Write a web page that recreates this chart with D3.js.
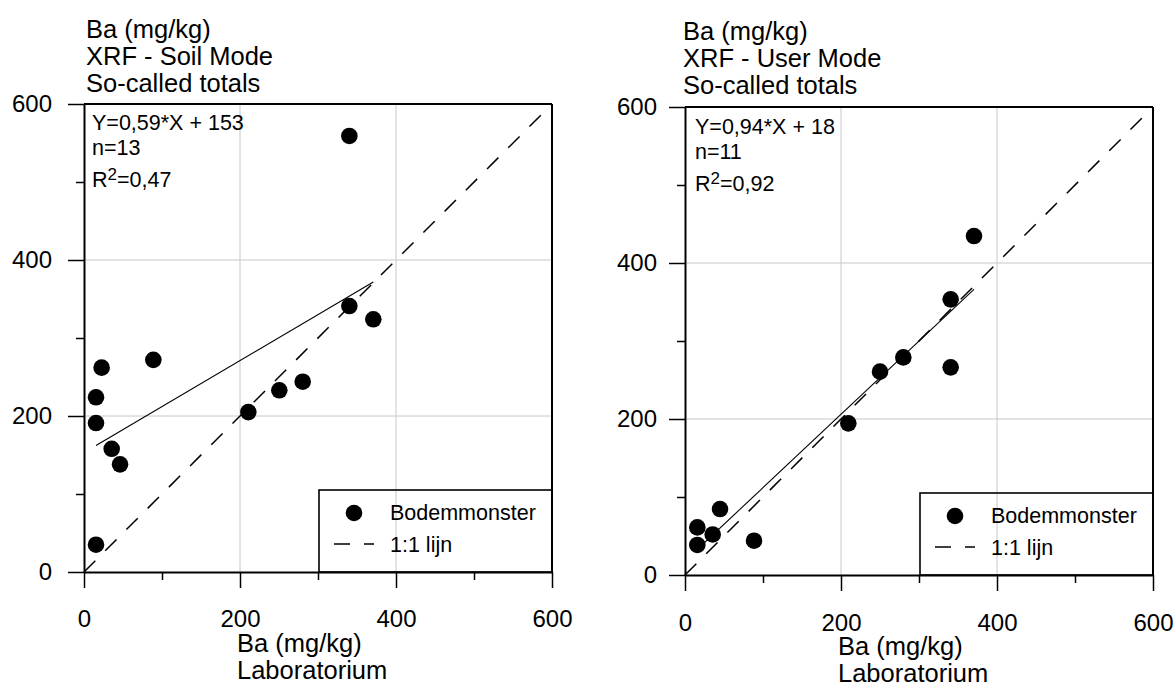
<!DOCTYPE html>
<html><head><meta charset="utf-8">
<script src="https://cdn.jsdelivr.net/npm/d3@7"></script>
<style>
body{margin:0;background:#fff}
svg text{font-family:"Liberation Sans",Arial,sans-serif;fill:#000}
</style>
</head><body>
<svg id="c" width="1175" height="688"></svg>
<script>
// ---- data ----
const soilLab = [22.6, 88.9, 15.4, 15.4, 35.5, 46.2, 15.4, 210.7, 250.4, 280.4, 340.2, 340.2, 370.9];
const soilXrf = [262, 272, 224, 191, 158, 138, 35, 205, 233, 244, 559, 341, 324];
const userLab = [15.8, 15.8, 35.5, 44.9, 88.5, 209.4, 250.0, 279.9, 370.5, 340.6, 340.6];
const userXrf = [61, 38.5, 52, 84.6, 44, 194.4, 260.7, 279, 434.6, 353.4, 266.2];
const majorTicks = [0, 200, 400, 600];
const minorTicks = [100, 300, 500];
const gridTicks = [200, 400];
const soilTitle = ["Ba (mg/kg)", "XRF - Soil Mode", "So-called totals"];
const userTitle = ["Ba (mg/kg)", "XRF - User Mode", "So-called totals"];
const xTitle = ["Ba (mg/kg)", "Laboratorium"];
const soilSlope = 0.59, soilIntercept = 153;
const userSlope = 0.94, userIntercept = 18;
const soilStats = ["Y=0,59*X + 153", "n=13", "0,47"];
const userStats = ["Y=0,94*X + 18", "n=11", "0,92"];
const legendLabels = ["Bodemmonster", "1:1 lijn"];

const svg = d3.select("#c");

function panel(cfg) {
  const W = 468;
  const x = d3.scaleLinear().domain([0, 600]).range([cfg.x0, cfg.x0 + W]);
  const y = d3.scaleLinear().domain([0, 600]).range([cfg.y0, cfg.y0 - W]);
  const g = svg.append("g");

  // grid
  g.selectAll(".gx").data(gridTicks).join("line")
    .attr("x1", d => x(d)).attr("x2", d => x(d))
    .attr("y1", y(0)).attr("y2", y(600))
    .attr("stroke", "#c8c8c8").attr("stroke-width", 1);
  g.selectAll(".gy").data(gridTicks).join("line")
    .attr("y1", d => y(d)).attr("y2", d => y(d))
    .attr("x1", x(0)).attr("x2", x(600))
    .attr("stroke", "#c8c8c8").attr("stroke-width", 1);

  // minor ticks
  const minL = g.append("g").attr("transform", `translate(${cfg.x0},0)`)
    .call(d3.axisLeft(y).tickValues(minorTicks).tickSize(8).tickFormat(""));
  const minB = g.append("g").attr("transform", `translate(0,${cfg.y0})`)
    .call(d3.axisBottom(x).tickValues(minorTicks).tickSize(8).tickFormat(""));
  [minL, minB].forEach(a => { a.select(".domain").remove(); a.selectAll("line").attr("stroke-width", 1.5); });

  // major axes
  const axL = g.append("g").attr("transform", `translate(${cfg.x0},0)`)
    .call(d3.axisLeft(y).tickValues(majorTicks).tickSize(16).tickSizeOuter(0).tickPadding(cfg.yPad));
  const axB = g.append("g").attr("transform", `translate(0,${cfg.y0})`)
    .call(d3.axisBottom(x).tickValues(majorTicks).tickSize(16).tickSizeOuter(0).tickPadding(cfg.xPad));
  [axL, axB].forEach(a => {
    a.select(".domain").attr("stroke-width", 2);
    a.selectAll("line").attr("stroke-width", 1.5);
    a.selectAll("text").style("font-size", "24px").style("font-family", '"Liberation Sans",Arial,sans-serif');
  });

  // frame top & right
  g.append("line").attr("x1", x(0)).attr("x2", x(600)).attr("y1", y(600)).attr("y2", y(600))
    .attr("stroke", "#000").attr("stroke-width", 2);
  g.append("line").attr("x1", x(600)).attr("x2", x(600)).attr("y1", y(0)).attr("y2", y(600))
    .attr("stroke", "#000").attr("stroke-width", 2);

  // 1:1 line
  g.append("line").attr("x1", x(0)).attr("y1", y(0)).attr("x2", x(600)).attr("y2", y(600))
    .attr("stroke", "#000").attr("stroke-width", 1.5).attr("stroke-dasharray", "16,14");

  // regression line
  const [mn, mx] = d3.extent(cfg.lab);
  g.append("line").attr("x1", x(mn)).attr("y1", y(cfg.slope * mn + cfg.intercept))
    .attr("x2", x(mx)).attr("y2", y(cfg.slope * mx + cfg.intercept))
    .attr("stroke", "#000").attr("stroke-width", 1.1);

  // points
  g.selectAll(".pt").data(cfg.lab.map((v, i) => [v, cfg.xrf[i]])).join("circle")
    .attr("cx", d => x(d[0])).attr("cy", d => y(d[1])).attr("r", 8.3).attr("fill", "#000");

  // title
  g.append("text").attr("x", cfg.titleX).attr("y", cfg.titleY).style("font-size", "25.5px")
    .selectAll("tspan").data(cfg.title).join("tspan")
    .attr("x", cfg.titleX).attr("dy", (d, i) => i === 0 ? 0 : 27).text(d => d);

  // stats
  const sx = cfg.statX, sy = cfg.statY;
  g.append("text").attr("x", sx).attr("y", sy).style("font-size", "21.5px").text(cfg.stats[0]);
  g.append("text").attr("x", sx).attr("y", sy + 25).style("font-size", "21.5px").text(cfg.stats[1]);
  const r2 = g.append("text").attr("x", sx).attr("y", sy + 56.5).style("font-size", "21.5px");
  r2.append("tspan").text("R");
  r2.append("tspan").attr("dy", -6.5).style("font-size", "17px").text("2");
  r2.append("tspan").attr("dy", 6.5).text("=" + cfg.stats[2]);

  // x title
  g.append("text").attr("x", cfg.xtX).attr("y", cfg.xtY).style("font-size", "25.5px")
    .selectAll("tspan").data(xTitle).join("tspan")
    .attr("x", cfg.xtX).attr("dy", (d, i) => i === 0 ? 0 : 27).text(d => d);

  // legend
  const lx = cfg.x0 + 235, ly = cfg.y0 - 82;
  g.append("rect").attr("x", lx).attr("y", ly).attr("width", x(600) - lx).attr("height", cfg.y0 - ly)
    .attr("fill", "none").attr("stroke", "#000").attr("stroke-width", 1.6);
  g.append("circle").attr("cx", lx + 35).attr("cy", ly + 23).attr("r", 8.3).attr("fill", "#000");
  g.append("text").attr("x", lx + 71).attr("y", ly + 30).style("font-size", "21.5px").text(legendLabels[0]);
  g.append("line").attr("x1", lx + 15).attr("x2", lx + 55).attr("y1", ly + 54).attr("y2", ly + 54)
    .attr("stroke", "#000").attr("stroke-width", 1.5).attr("stroke-dasharray", "16,14");
  g.append("text").attr("x", lx + 71).attr("y", ly + 62).style("font-size", "21.5px").text(legendLabels[1]);
}

panel({x0: 84, y0: 572, yPad: 16, xPad: 22, lab: soilLab, xrf: soilXrf,
  slope: soilSlope, intercept: soilIntercept, title: soilTitle, titleX: 86, titleY: 38,
  stats: soilStats, statX: 92, statY: 130, xtX: 237, xtY: 652});
panel({x0: 685, y0: 575, yPad: 12, xPad: 23, lab: userLab, xrf: userXrf,
  slope: userSlope, intercept: userIntercept, title: userTitle, titleX: 683, titleY: 40,
  stats: userStats, statX: 695, statY: 134, xtX: 838, xtY: 655});
</script>
</body></html>
